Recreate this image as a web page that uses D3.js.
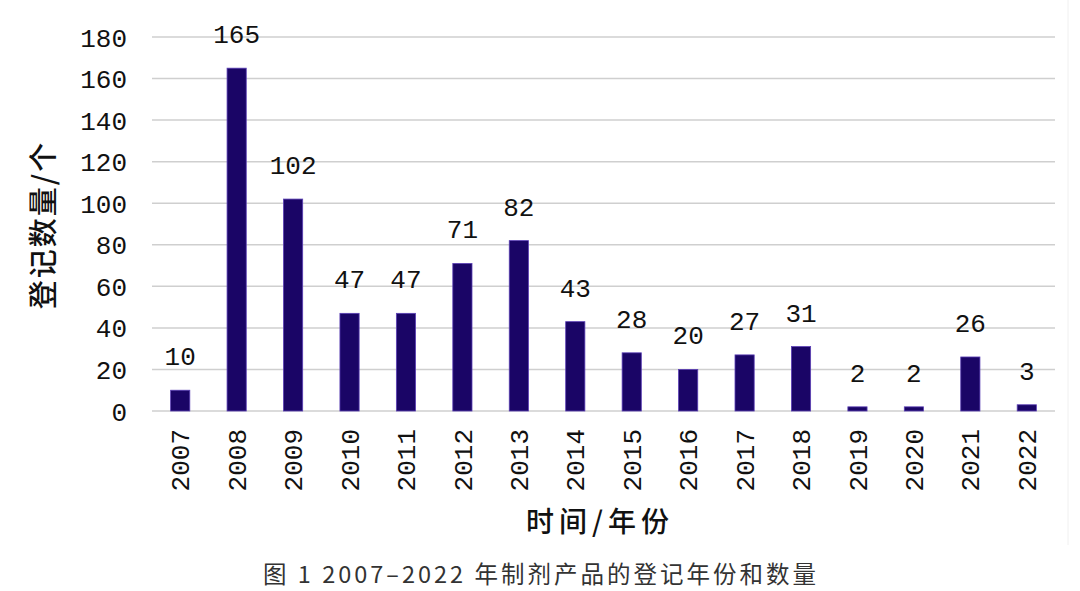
<!DOCTYPE html>
<html><head><meta charset="utf-8">
<script src="https://cdn.jsdelivr.net/npm/d3@7"></script>
<style>body{margin:0;background:#fff}svg{display:block}</style>
</head><body>
<svg id="c" width="1080" height="591"></svg>
<script>
const years = ["2007","2008","2009","2010","2011","2012","2013","2014","2015","2016","2017","2018","2019","2020","2021","2022"];
const counts = [10,165,102,47,47,71,82,43,28,20,27,31,2,2,26,3];
const yTicks = [0,20,40,60,80,100,120,140,160,180];

const svg = d3.select("#c");
const m = {l:152, r:1055, t:37, b:411};
const x = d3.scaleBand().domain(years).range([m.l, m.r]).paddingInner(0.66).paddingOuter(0.33);
const y = d3.scaleLinear().domain([0,180]).range([m.b, m.t]);

svg.append("line").attr("x1",1068).attr("x2",1068).attr("y1",0).attr("y2",545).attr("stroke","#f0f0f0").attr("stroke-width",1);

const monoFont = "'Liberation Mono', 'DejaVu Sans Mono', monospace";
const cjk = "'Noto Sans CJK SC', sans-serif";

// grid
svg.append("g").selectAll("line").data(yTicks).join("line")
  .attr("x1",m.l).attr("x2",m.r)
  .attr("y1",d=>y(d)).attr("y2",d=>y(d))
  .attr("stroke","#cfcfcf").attr("stroke-width",1.5);

// y axis labels
const yAxis = d3.axisLeft(y).tickValues(yTicks).tickSize(0).tickPadding(0);
const gy = svg.append("g").attr("transform",`translate(${m.l-25},0)`).call(yAxis);
gy.select(".domain").remove();
gy.selectAll("text").attr("font-family",monoFont).attr("font-size",26).attr("fill","#111").attr("dy","0.35em");

// bars
svg.append("g").selectAll("rect").data(counts).join("rect")
  .attr("x",(d,i)=>x(years[i]))
  .attr("width",x.bandwidth())
  .attr("y",d=>y(d))
  .attr("height",d=>y(0)-y(d))
  .attr("fill","#1a0566").attr("stroke","#5b3fb5").attr("stroke-width",0.8);

// value labels
svg.append("g").selectAll("text").data(counts).join("text")
  .attr("x",(d,i)=>x(years[i])+x.bandwidth()/2)
  .attr("y",d=>y(d)-25)
  .attr("text-anchor","middle")
  .attr("font-family",monoFont).attr("font-size",26).attr("fill","#111")
  .text(d=>d);

// x labels
const xAxis = d3.axisBottom(x).tickSize(0).tickPadding(0);
const gx = svg.append("g").attr("transform",`translate(0,${m.b})`).call(xAxis);
gx.select(".domain").remove();
gx.selectAll("text")
  .attr("font-family",monoFont).attr("font-size",26).attr("fill","#111")
  .attr("transform","rotate(-90)")
  .attr("text-anchor","end")
  .attr("x",-18).attr("y",0).attr("dy","0.35em");

// axis titles
svg.append("text").attr("transform","translate(41,225) rotate(-90)")
  .attr("text-anchor","middle").attr("dominant-baseline","central")
  .attr("font-family",cjk).attr("font-size",29).attr("font-weight",500).attr("fill","#111")
  .attr("letter-spacing",2)
  .text("登记数量/个");
svg.append("text").attr("x",600).attr("y",532)
  .attr("text-anchor","middle")
  .attr("font-family",cjk).attr("font-size",28).attr("font-weight",500).attr("fill","#111")
  .attr("letter-spacing",5)
  .text("时间/年份");

svg.append("text").attr("x",541).attr("y",583)
  .attr("text-anchor","middle")
  .attr("font-family","'Noto Sans CJK SC', 'Liberation Sans', sans-serif").attr("font-size",23.5).attr("fill","#333")
  .attr("letter-spacing",3)
  .text("图 1  2007–2022 年制剂产品的登记年份和数量");
</script>
</body></html>
